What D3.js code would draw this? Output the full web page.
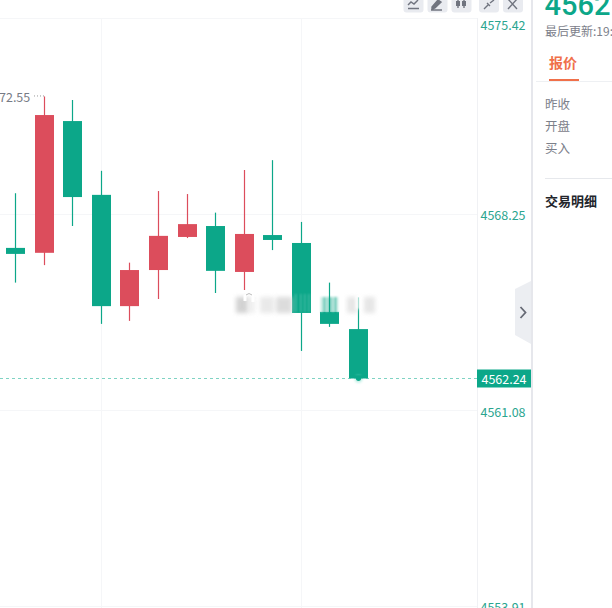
<!DOCTYPE html>
<html><head><meta charset="utf-8">
<script src="https://cdn.jsdelivr.net/npm/d3@7"></script>
<style>html,body{margin:0;padding:0;background:#fff;overflow:hidden}svg{display:block}</style>
</head><body><svg id="c" width="612" height="608"></svg>
<script>
const opens  = [4567.01,4566.83,4571.65,4568.95,4564.88,4566.20,4567.41,4567.81,4566.13,4567.48,4567.19,4564.67,4564.04];
const closes = [4566.79,4571.87,4568.87,4564.88,4566.20,4567.45,4567.88,4566.17,4567.52,4567.30,4564.63,4564.23,4562.24];
const highs  = [4569.01,4572.55,4572.42,4569.83,4566.47,4569.09,4568.98,4568.30,4569.86,4570.22,4567.96,4565.74,4565.20];
const lows   = [4565.74,4566.38,4567.81,4564.23,4564.34,4565.14,4567.37,4565.36,4565.47,4566.93,4563.24,4564.12,4562.24];
const yTicks = [4575.42,4568.25,4561.08,4553.91];
const lastPrice = 4562.24;
const highLabel = "72.55";
const panelLabels = ["昨收","开盘","买入"];

const UP="#dc4d5c", DOWN="#0ca789", FONT='"Noto Sans CJK SC","Noto Sans",sans-serif';
const svg=d3.select("#c");
const x=d3.scaleLinear().domain([0,12]).range([15.5,358.5]);
const y=d3.scaleLinear().domain([4553.91,4575.42]).range([606,18]);
const idx=d3.range(opens.length);

const defs=svg.append("defs");
defs.append("filter").attr("id","b3").attr("x","-30%").attr("y","-60%").attr("width","160%").attr("height","220%")
  .append("feGaussianBlur").attr("stdDeviation","2.2");
defs.append("filter").attr("id","b1").attr("x","-50%").attr("y","-100%").attr("width","200%").attr("height","300%")
  .append("feGaussianBlur").attr("stdDeviation","1.2");

// grid
const grid=svg.append("g").attr("stroke","#f5f6f8").attr("stroke-width",1);
yTicks.forEach(t=>grid.append("line").attr("x1",0).attr("x2",477).attr("y1",Math.round(y(t))+.5).attr("y2",Math.round(y(t))+.5));
[3,10].forEach(i=>grid.append("line").attr("x1",Math.round(x(i))+.5).attr("x2",Math.round(x(i))+.5).attr("y1",18).attr("y2",608));
grid.append("line").attr("x1",477.5).attr("x2",477.5).attr("y1",18).attr("y2",608).attr("stroke","#f0f1f4");

// candles
const col=i=>closes[i]>=opens[i]?UP:DOWN;
const left=i=>Math.round(x(i)-9.5);
const c=svg.append("g").selectAll("g").data(idx).join("g");
c.append("line").attr("x1",i=>left(i)+9.5).attr("x2",i=>left(i)+9.5)
  .attr("y1",i=>y(highs[i])).attr("y2",i=>y(lows[i])).attr("stroke",col).attr("stroke-width",1.2);
c.append("rect").attr("x",left).attr("width",19)
  .attr("y",i=>y(Math.max(opens[i],closes[i]))).attr("height",i=>Math.abs(y(opens[i])-y(closes[i]))).attr("fill",col);

// high label
svg.append("text").attr("x",-1).attr("y",y(highs[1])+5.5).attr("font-family",FONT).attr("font-size",12.5).attr("fill","#777b85").text(highLabel);
svg.append("line").attr("x1",34).attr("x2",left(1)+10).attr("y1",y(highs[1])-.5).attr("y2",y(highs[1])-.5).attr("stroke","#999").attr("stroke-dasharray","1 2");

// smudge band
const sm=svg.append("g");
// streaky green ghost above the 12th candle
sm.append("rect").attr("x",left(11)+1).attr("y",297).attr("width",17).attr("height",16).attr("fill",DOWN).attr("opacity",.5).attr("filter","url(#b1)");
[[236,12,"#c4c4c4",.75],[248,7,"#e4e4e4",.6],[260,14,"#e0e0e0",.7],[276,16,"#d4d4d4",.8],[347,10,"#dcdcdc",.7],[364,11,"#dcdcdc",.7]].forEach(d=>
  sm.append("rect").attr("x",d[0]).attr("y",297).attr("width",d[1]).attr("height",16).attr("fill",d[2]).attr("opacity",d[3]).attr("filter","url(#b3)"));
// white streaks on the candles
[[295,1.5,.22],[300,1.5,.22],[304,1.5,.22],[308,1.5,.22],[320,3,.5],[326,2,.5],[332,2,.5],[337,3,.5]].forEach(d=>
  sm.append("rect").attr("x",d[0]).attr("y",294).attr("width",d[1]).attr("height",18).attr("fill","#fff").attr("opacity",d[2]).attr("filter","url(#b1)"));
sm.append("rect").attr("x",355).attr("y",295).attr("width",7).attr("height",14).attr("fill","#fff").attr("opacity",.6).attr("filter","url(#b1)");
sm.append("path").attr("d","M245 301 V296 Q249 291 253 296 V302").attr("fill","none").attr("stroke","#fff").attr("stroke-width",3);
sm.append("path").attr("d","M246 295 Q249 292 252 295").attr("fill","none").attr("stroke","#aaa").attr("stroke-width",.8);

// last price line
svg.append("line").attr("x1",0).attr("x2",477).attr("y1",Math.round(y(lastPrice))+.5).attr("y2",Math.round(y(lastPrice))+.5)
  .attr("stroke","#7fd3c3").attr("stroke-width",1).attr("stroke-dasharray","3 3");
svg.append("circle").attr("cx",left(12)+9.5).attr("cy",y(lastPrice)+.5).attr("r",4).attr("fill","#7fdcc9").attr("opacity",.45).attr("filter","url(#b1)");
svg.append("circle").attr("cx",left(12)+9.5).attr("cy",y(lastPrice)).attr("r",2.6).attr("fill",DOWN);
svg.append("rect").attr("x",left(12)).attr("width",19).attr("y",y(lastPrice)-3).attr("height",3).attr("fill",DOWN);

// axis labels
yTicks.forEach((t,i)=>svg.append("text").attr("x",503).attr("y",y(t)+[12,6,7,6][i]).attr("text-anchor","middle")
  .attr("font-family",FONT).attr("font-size",12.5).attr("fill","#2aa58f").text(t.toFixed(2)));
svg.append("rect").attr("x",477).attr("y",369.5).attr("width",54).attr("height",18).attr("fill",DOWN);
svg.append("text").attr("x",504).attr("y",y(lastPrice)+6).attr("text-anchor","middle").attr("font-family",FONT).attr("font-size",12.5).attr("fill","#fff").text(lastPrice.toFixed(2));

// toolbar
const tb=svg.append("g");
[[403.5,"M408 5l3-3 3 2 4-4M408 8.5h11",0],[427.5,"M432 7l6-7 3 2-6 6-3 1zM431 10h11",1],[451.5,"M458 -1v9M464 -1v9",0],[479,"M484 9l4-4M490 3l4-3M487 3l3 3",0],[503,"M508 -1l9 10M517 -1l-9 10",0]].forEach((d,i)=>{
  tb.append("rect").attr("x",d[0]).attr("y",-8).attr("width",20).attr("height",20.5).attr("rx",3).attr("fill","#e9ebf0");
  tb.append("path").attr("d",d[1]).attr("fill",d[2]?"#70747f":"none").attr("stroke","#70747f").attr("stroke-width",1.4);
  if(i===2){tb.append("rect").attr("x",456).attr("y",1).attr("width",4).attr("height",5).attr("fill","#70747f");
            tb.append("rect").attr("x",462).attr("y",1).attr("width",4).attr("height",5).attr("fill","#70747f");}
});

// right panel
svg.append("rect").attr("x",531).attr("y",0).attr("width",2).attr("height",608).attr("fill","#e6e7ec");
svg.append("path").attr("d","M531 281 L515 289 L515 335 L531 344 Z").attr("fill","#eceef2");
svg.append("path").attr("d","M520.5 307 L525.5 312.5 L520.5 318").attr("fill","none").attr("stroke","#666a75").attr("stroke-width",1.8);

svg.append("text").attr("x",544.5).attr("y",15).attr("font-family",'Roboto,"Noto Sans",sans-serif').attr("font-size",29).attr("font-weight",500).attr("fill",DOWN).text("4562");
svg.append("text").attr("x",545).attr("y",36).attr("font-family",FONT).attr("font-size",12).attr("fill","#7c808a").text("最后更新:19:");
svg.append("text").attr("x",549).attr("y",68).attr("font-family",FONT).attr("font-size",14).attr("font-weight",700).attr("fill","#f0704a").text("报价");
svg.append("rect").attr("x",549).attr("y",79).attr("width",30).attr("height",2).attr("fill","#f0704a");
svg.append("line").attr("x1",536).attr("x2",612).attr("y1",81.5).attr("y2",81.5).attr("stroke","#eef0f3");
panelLabels.forEach((t,i)=>svg.append("text").attr("x",545).attr("y",109+i*22).attr("font-family",FONT).attr("font-size",12.5).attr("fill","#7c808a").text(t));
svg.append("line").attr("x1",545).attr("x2",612).attr("y1",178.5).attr("y2",178.5).attr("stroke","#e6e8ec");
svg.append("text").attr("x",545).attr("y",206).attr("font-family",FONT).attr("font-size",13).attr("font-weight",700).attr("fill","#22252b").text("交易明细");
</script></body></html>
